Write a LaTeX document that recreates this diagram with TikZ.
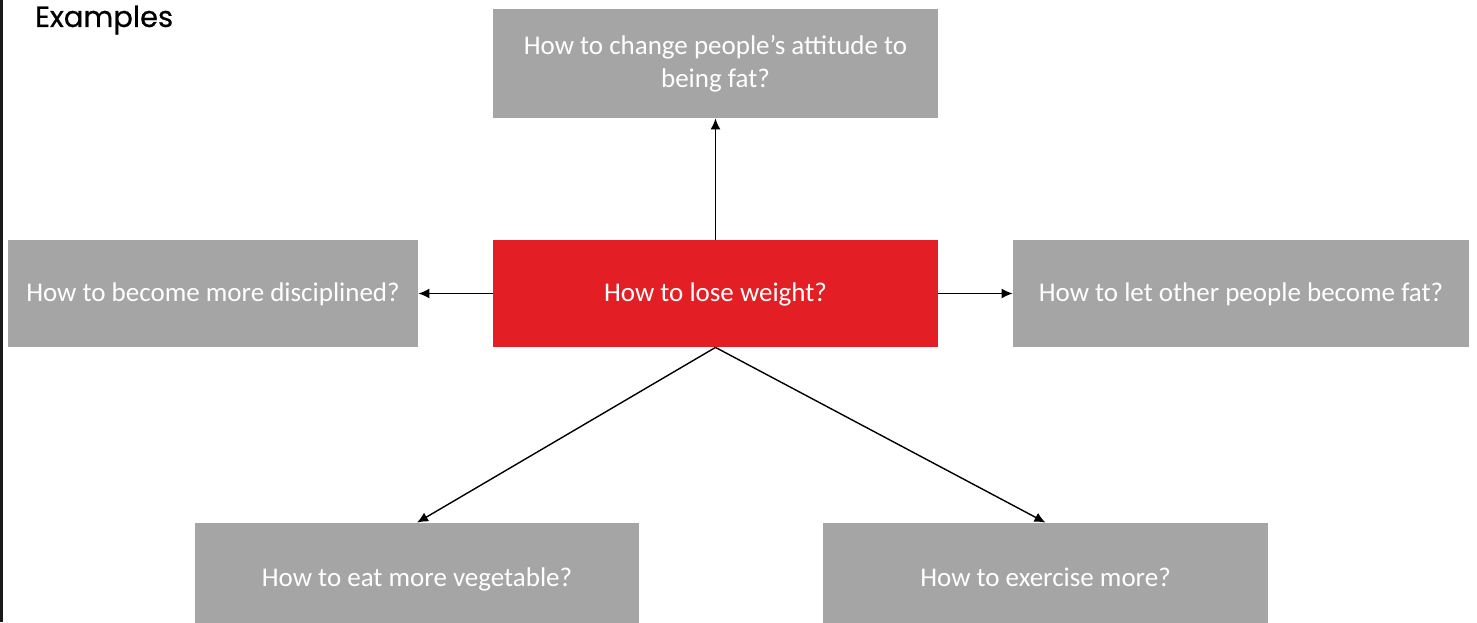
\documentclass[tikz,border=0pt]{standalone}
\usepackage{fontspec}
\setmainfont{Carlito}
\newfontfamily\titlefont[FakeBold=0.6]{Poppins}
\usetikzlibrary{positioning,arrows.meta}
\definecolor{qgray}{HTML}{A5A5A5}
\definecolor{qred}{HTML}{E31E24}
\tikzset{
  qbox/.style={rectangle,fill=qgray,text=white,inner sep=0,align=center,
               font=\fontsize{13.5}{16.5}\selectfont},
  oneline/.style={qbox,text height=0.95em,text depth=0.15em},
  mainbox/.style={oneline,fill=qred},
  link/.style={-{Latex[length=5.5pt,width=5pt]},line width=0.7pt},
}
\begin{document}
\begin{tikzpicture}[x=0.5pt,y=-0.5pt]
  \clip (0,0) rectangle (1477,622);
  \fill[white] (0,0) rectangle (1477,622);
  % frame edge and title
  \draw[line width=1.5pt,black!90] (1.5,0) -- (1.5,622);
  \node[anchor=west,font=\titlefont\fontsize{14.5}{17}\selectfont] (title) at (28,20) {Examples};
  % the question and its reframings
  \node[mainbox,minimum width=222.5pt,minimum height=53.5pt] (lose) at (715.5,293.5) {How to lose weight?};
  \node[qbox,minimum width=222.5pt,minimum height=54.5pt] (attitude) at (715.5,63.5) {\rule{0pt}{6pt}How to change people’s attitude to\\being fat?};
  \node[oneline,minimum width=205pt,minimum height=53.5pt] (discipline) at (213,293.5) {How to become more disciplined?};
  \node[oneline,minimum width=228pt,minimum height=53.5pt] (others) at (1241,293.5) {How to let other people become fat?};
  \node[oneline,minimum width=222pt,minimum height=55pt] (veg) at (417,578) {How to eat more vegetable?};
  \node[oneline,minimum width=222.5pt,minimum height=55pt] (exercise) at (1045.5,578) {How to exercise more?};
  % arrows out of the question
  \draw[link] (lose) -- (attitude);
  \draw[link] (lose) -- (discipline);
  \draw[link] (lose) -- (others);
  \draw[link] (lose.south) -- (veg.north);
  \draw[link] (lose.south) -- (exercise.north);
\end{tikzpicture}
\end{document}
